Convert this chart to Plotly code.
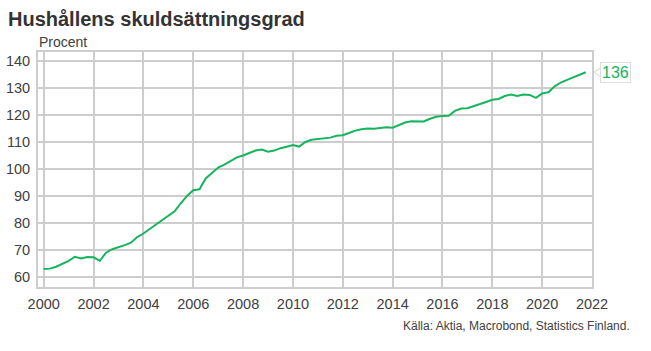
import plotly.graph_objects as go

years = list(range(2000, 2022))
quarters = [0.0, 0.25, 0.5, 0.75]
values = [
    63.0, 63.1, 63.8, 64.8,
    66.0, 67.5, 66.9, 67.4,
    67.3, 66.0, 69.0, 70.3,
    71.0, 71.8, 72.7, 74.8,
    76.1, 77.8, 79.5, 81.2,
    82.6, 84.3, 87.3, 90.0,
    92.1, 92.5, 96.5, 98.5,
    100.5, 101.6, 102.8, 104.3,
    105.0, 106.0, 106.8, 107.2,
    106.4, 106.8, 107.7, 108.2,
    108.9, 108.3, 110.0, 110.8,
    111.0, 111.2, 111.6, 112.3,
    112.5, 113.3, 114.2, 114.7,
    115.0, 114.9, 115.1, 115.4,
    115.3, 116.4, 117.2, 117.7,
    117.6, 117.6, 118.6, 119.3,
    119.6, 119.7, 121.5, 122.4,
    122.5, 123.2, 123.9, 124.8,
    125.6, 125.9, 127.0, 127.6,
    127.0, 127.6, 127.4, 126.3,
    128.0, 128.4, 130.6, 132.0,
    133.0, 134.0, 134.8, 135.8,
]
x_vals = [y + q for y in years for q in quarters]
x_ticks = list(range(2000, 2023, 2))
y_ticks = list(range(60, 141, 10))
last_label = "136"

title_text = "Hushållens skuldsättningsgrad"
unit_text = "Procent"
source_text = "Källa: Aktia, Macrobond, Statistics Finland."

GREEN = "#17b45e"
GRID = "#cdcdcd"
FONT = "Liberation Sans, Arial, sans-serif"
Y_RANGE = [56.3, 143.3]

fig = go.Figure()
fig.add_trace(go.Scatter(
    x=x_vals, y=values, mode="lines",
    line=dict(color=GREEN, width=2), hoverinfo="skip", showlegend=False,
))

fig.update_layout(
    width=651, height=351,
    margin=dict(l=38, r=59, t=52, b=64, autoexpand=False),
    paper_bgcolor="white", plot_bgcolor="white",
    font=dict(family=FONT, size=14, color="#404040"),
    title=dict(text="<b>" + title_text + "</b>", x=8 / 651, xanchor="left",
               y=1 - 19 / 351, yanchor="middle",
               font=dict(family=FONT, size=20, color="#333333")),
    showlegend=False,
)
fig.update_xaxes(
    range=[1999.77, 2022.0], tickmode="array", tickvals=x_ticks,
    ticktext=[str(t) for t in x_ticks], automargin=False,
    showgrid=True, gridcolor=GRID, gridwidth=2,
    showline=True, linecolor=GRID, linewidth=2, mirror=True,
    ticks="outside", ticklen=3, tickcolor="rgba(0,0,0,0)",
    zeroline=False, tickfont=dict(size=14.5, color="#404040"),
)
fig.update_yaxes(
    range=Y_RANGE, tickmode="array", tickvals=y_ticks,
    ticktext=[str(t) for t in y_ticks], automargin=False,
    showgrid=True, gridcolor=GRID, gridwidth=2,
    showline=True, linecolor=GRID, linewidth=2, mirror=True,
    ticks="outside", ticklen=3, tickcolor="rgba(0,0,0,0)",
    zeroline=False, tickfont=dict(size=14.5, color="#404040"),
)

fig.add_annotation(
    xref="paper", yref="paper", x=0, y=1, xanchor="left", yanchor="bottom",
    xshift=-1, yshift=0,
    text=unit_text, showarrow=False, font=dict(size=14, color="#404040"),
)
fig.add_annotation(
    xref="paper", yref="paper", x=(632 - 38) / 554, y=(287 - 326) / 235,
    xanchor="right", yanchor="middle",
    text=source_text, showarrow=False, font=dict(size=12, color="#404040"),
)
# last value label
fig.add_annotation(
    x=x_vals[-1], y=values[-1], xanchor="left", yanchor="middle",
    xshift=14, showarrow=False, text=last_label,
    font=dict(size=16, color=GREEN), bgcolor="white",
    bordercolor="#dddddd", borderwidth=1, borderpad=1,
)
last_paper_y = (values[-1] - Y_RANGE[0]) / (Y_RANGE[1] - Y_RANGE[0])
fig.add_shape(
    type="path", xref="paper", yref="paper", xsizemode="pixel", ysizemode="pixel",
    xanchor=1, yanchor=last_paper_y,
    path="M 11,6 L 2,0 L 11,-6", line=dict(color="#d4d4d4", width=1),
)

fig.write_html("out.html")
